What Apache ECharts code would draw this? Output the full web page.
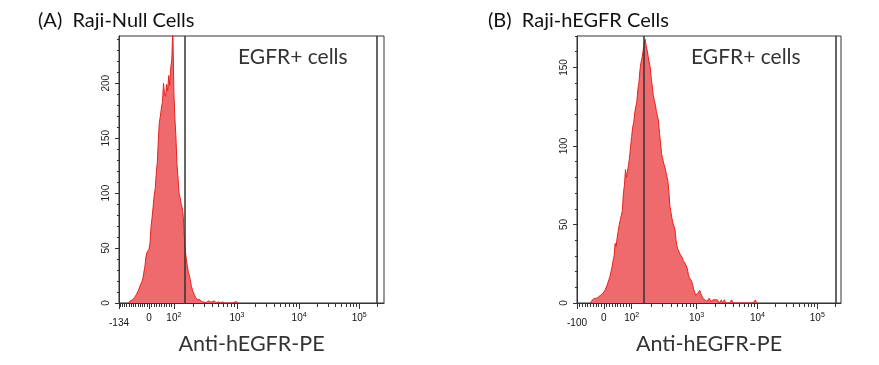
<!DOCTYPE html>
<html><head><meta charset="utf-8">
<script src="https://cdn.jsdelivr.net/npm/echarts@6/dist/echarts.min.js"></script>
<style>html,body{margin:0;padding:0;background:#fff}#c{width:879px;height:365px}</style>
</head><body><div id="c"></div>
<script>
// ---- text ----
const panelTitles = ['(A)  Raji-Null Cells', '(B)  Raji-hEGFR Cells'];
const gateLabel = 'EGFR+ cells';
const xAxisTitle = 'Anti-hEGFR-PE';

// ---- x axis (display channel scale 0..256, biexponential) ----
const channelMax = 256;
const nullTickValues = [-134, 0, 100, 1000, 10000, 100000];
const nullTickChannels = [0, 29, 53, 114, 174, 232];
const egfrTickValues = [-100, 0, 100, 1000, 10000, 100000];
const egfrTickChannels = [0, 26, 53, 116, 175, 233];

// ---- y axis ----
const nullYTicks = [0, 50, 100, 150, 200];
const nullYMax = 243;
const egfrYTicks = [0, 50, 100, 150];
const egfrYMax = 170;
const yMinorStep = 10;

// ---- gates (fluorescence units) ----
const nullGateLow = 151;
const egfrGateLow = 155;
const gateHigh = 200000;

// ---- histogram counts per display channel ----
const nullStartChannel = 10;
const nullCounts = [
  1,2,2,3,4,5,6,8,10,12,
  15,16,19,22,28,33,42,46,47,49,
  55,70,78,88,98,104,118,128,148,165,
  170,178,183,200,190,188,199,193,207,198,
  214,222,250,192,168,151,126,114,100,96,
  90,87,80,62,48,40,34,28,25,20,
  15,12,9,7,5,4,3,2,3,2,
  1,2,1,1,0,1,2,1,1,0,
  1,1,2,1,0,1,1,1,0,0,
  1,0,0,1,0,0,0,0,0,1,
  0,0,1,2,1
];
const egfrStartChannel = 14;
const egfrCounts = [
  1,2,2,3,3,3,4,4,5,5,
  6,6,7,8,9,11,13,15,17,20,
  23,27,30,38,36,42,46,50,53,56,
  59,70,75,85,80,84,88,93,100,106,
  112,115,121,125,128,136,140,148,153,156,
  160,165,168,164,161,157,156,150,143,138,
  132,129,126,122,119,116,108,102,95,92,
  89,87,84,81,78,72,62,58,54,51,
  49,47,40,36,34,33,31,30,29,27,
  26,25,24,22,18,16,15,14,12,9,
  7,5,4,6,7,8,6,5,3,2,
  2,3,1,2,3,2,1,2,2,1,
  2,3,2,1,0,1,2,0,1,2,
  0,1,0,1,0,0,2,0,1,0,
  0,0,0,0,0,0,0,0,0,0,
  0,0,0,0,0,0,0,0,0,2,
  0
];

// ---- helpers ----
function toChannel(v, vals, chans) {
  if (v <= vals[2]) {
    for (let i = 0; i < 2; i++) {
      if (v <= vals[i + 1]) {
        return chans[i] + (v - vals[i]) / (vals[i + 1] - vals[i]) * (chans[i + 1] - chans[i]);
      }
    }
  }
  const lv = Math.log10(v);
  for (let i = 2; i < vals.length - 1; i++) {
    const a = Math.log10(vals[i]), b = Math.log10(vals[i + 1]);
    if (lv <= b) return chans[i] + (lv - a) / (b - a) * (chans[i + 1] - chans[i]);
  }
  const n = vals.length - 1;
  const d = chans[n] - chans[n - 1];
  return chans[n] + (lv - Math.log10(vals[n])) * d;
}
function minorChannels(vals, chans) {
  const out = [];
  for (let v = Math.ceil(vals[0] / 10) * 10; v < 100; v += 10) {
    if (v !== 0 && v !== vals[0]) out.push(toChannel(v, vals, chans));
  }
  for (let k = 2; k <= 5; k++) {
    for (let m = 2; m <= 9; m++) {
      const c = toChannel(m * Math.pow(10, k), vals, chans);
      if (c <= channelMax) out.push(c);
    }
  }
  return out;
}
function tickLabel(v) {
  if (v < 0) return '{low|' + v + '}';
  if (v === 0) return '{n|0}';
  const e = Math.round(Math.log10(v));
  return '{n|10}{s|' + e + '}';
}
function yMinor(max, majors) {
  const out = [];
  for (let v = 0; v <= max; v += yMinorStep) if (majors.indexOf(v) < 0) out.push(v);
  return out;
}

const AX = '#333';
const FF = 'Liberation Sans, Arial';
const labelRich = {
  n: { fontSize: 10, color: '#111', fontFamily: FF, lineHeight: 11 },
  s: { fontSize: 7, color: '#111', fontFamily: FF, padding: [0, 0, 6, 0], lineHeight: 11 },
  low: { fontSize: 10, color: '#111', fontFamily: FF, padding: [10, 0, 0, 0], lineHeight: 11 }
};

const panels = [
  { left: 119, width: 265, vals: nullTickValues, chans: nullTickChannels, yTicks: nullYTicks, yMax: nullYMax,
    gate: nullGateLow, start: nullStartChannel, counts: nullCounts },
  { left: 577, width: 264, vals: egfrTickValues, chans: egfrTickChannels, yTicks: egfrYTicks, yMax: egfrYMax,
    gate: egfrGateLow, start: egfrStartChannel, counts: egfrCounts }
];

const grid = [], xAxis = [], yAxis = [], series = [];
panels.forEach((p, i) => {
  grid.push({ left: p.left, top: 36, width: p.width, height: 267, show: true,
    borderColor: AX, borderWidth: 1, backgroundColor: 'transparent', containLabel: false });
  const labelMap = {};
  p.chans.forEach((c, j) => { labelMap[c] = tickLabel(p.vals[j]); });
  xAxis.push({
    type: 'value', gridIndex: i, min: 0, max: channelMax, position: 'bottom',
    axisLine: { show: true, lineStyle: { color: AX, width: 1 } },
    axisTick: { show: true, customValues: p.chans, length: 6, lineStyle: { color: AX } },
    axisLabel: { show: true, customValues: p.chans, margin: 10, formatter: v => labelMap[v] || '', rich: labelRich,
      hideOverlap: false, showMinLabel: true, showMaxLabel: true },
    splitLine: { show: false },
    name: xAxisTitle, nameLocation: 'middle', nameGap: 28,
    nameTextStyle: { fontFamily: 'Lato', fontSize: 21.5, color: '#333' }
  });
  xAxis.push({
    type: 'value', gridIndex: i, min: 0, max: channelMax, position: 'bottom',
    axisLine: { show: false },
    axisTick: { show: true, customValues: minorChannels(p.vals, p.chans), length: 4, lineStyle: { color: AX } },
    axisLabel: { show: false }, splitLine: { show: false }
  });
  yAxis.push({
    type: 'value', gridIndex: i, min: 0, max: p.yMax, position: 'left',
    axisLine: { show: true, lineStyle: { color: AX } },
    axisTick: { show: true, customValues: p.yTicks, length: 4, lineStyle: { color: AX } },
    axisLabel: { show: true, customValues: p.yTicks, rotate: 90, margin: 8, fontSize: 10,
      fontFamily: FF, color: '#222', showMinLabel: true, showMaxLabel: true },
    splitLine: { show: false }
  });
  yAxis.push({
    type: 'value', gridIndex: i, min: 0, max: p.yMax, position: 'left',
    axisLine: { show: false },
    axisTick: { show: true, customValues: yMinor(p.yMax, p.yTicks), length: 2, lineStyle: { color: AX } },
    axisLabel: { show: false }, splitLine: { show: false }
  });
  const data = [[p.start - 1, 0]];
  p.counts.forEach((c, j) => data.push([p.start + j, c]));
  data.push([p.start + p.counts.length, 0]);
  series.push({
    type: 'line', xAxisIndex: 2 * i, yAxisIndex: 2 * i, data: data, showSymbol: false, symbol: 'none',
    lineStyle: { color: '#e8221e', width: 1 },
    areaStyle: { color: '#ee6a6d', opacity: 1 },
    clip: true, silent: true,
    markLine: {
      silent: true, symbol: 'none', label: { show: false },
      lineStyle: { color: '#333', width: 1.5, type: 'solid' },
      data: [{ xAxis: toChannel(p.gate, p.vals, p.chans) }, { xAxis: toChannel(gateHigh, p.vals, p.chans) }]
    }
  });
});

const titleStyle = { fontFamily: 'Lato', fontSize: 20, fontWeight: 'normal', color: '#111' };
const gateStyle = { fontFamily: 'Lato', fontSize: 21, fontWeight: 'normal', color: '#333' };
const title = [
  { text: panelTitles[0], left: 33, top: 6, textStyle: titleStyle },
  { text: panelTitles[1], left: 483, top: 6, textStyle: titleStyle },
  { text: gateLabel, left: 233, top: 42, textStyle: gateStyle },
  { text: gateLabel, left: 686, top: 42, textStyle: gateStyle }
];

const chart = echarts.init(document.getElementById('c'), null, { renderer: 'canvas' });
chart.setOption({ animation: false, backgroundColor: '#fff', title, grid, xAxis, yAxis, series });
</script>
</body></html>
